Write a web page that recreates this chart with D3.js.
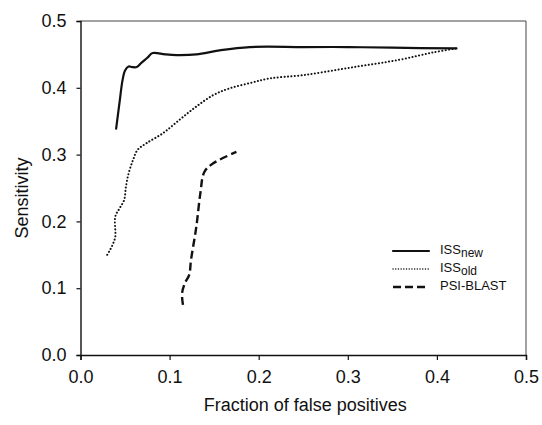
<!DOCTYPE html>
<html><head><meta charset="utf-8">
<script src="https://cdn.jsdelivr.net/npm/d3@7"></script>
<style>
html,body{margin:0;padding:0;background:#fff;}
text{font-family:"Liberation Sans",Arial,sans-serif;fill:#111;}
</style></head>
<body>
<svg id="c" width="542" height="425"></svg>
<script>
const xTicks = [0.0, 0.1, 0.2, 0.3, 0.4, 0.5];
const yTicks = [0.0, 0.1, 0.2, 0.3, 0.4, 0.5];
const xTitle = "Fraction of false positives";
const yTitle = "Sensitivity";

const issNewX = [0.040, 0.044, 0.047, 0.050, 0.054, 0.058, 0.063, 0.068, 0.075, 0.081, 0.095, 0.108, 0.130, 0.156, 0.190, 0.25, 0.30, 0.35, 0.422];
const issNewY = [0.339, 0.380, 0.410, 0.426, 0.432, 0.431, 0.431, 0.437, 0.445, 0.452, 0.450, 0.449, 0.450, 0.456, 0.461, 0.461, 0.461, 0.460, 0.459];

const issOldX = [0.030, 0.033, 0.036, 0.039, 0.039, 0.044, 0.049, 0.051, 0.054, 0.059, 0.064, 0.074, 0.0925, 0.111, 0.130, 0.149, 0.167, 0.190, 0.212, 0.25, 0.302, 0.358, 0.396, 0.422];
const issOldY = [0.150, 0.157, 0.165, 0.177, 0.207, 0.220, 0.232, 0.252, 0.272, 0.292, 0.307, 0.317, 0.332, 0.352, 0.372, 0.389, 0.399, 0.407, 0.414, 0.419, 0.430, 0.442, 0.453, 0.459];

const psiX = [0.115, 0.114, 0.117, 0.122, 0.124, 0.130, 0.1345, 0.139, 0.149, 0.175];
const psiY = [0.075, 0.092, 0.107, 0.120, 0.142, 0.192, 0.242, 0.274, 0.287, 0.304];

const seriesNames = [["ISS","new"],["ISS","old"],["PSI-BLAST",""]];

const svg = d3.select("#c");
const L = 80.5, R = 526, T = 21, B = 355;
const x = d3.scaleLinear().domain([0,0.5]).range([L,R]);
const y = d3.scaleLinear().domain([0,0.5]).range([B,T]);

// frame
svg.append("line").attr("x1",L).attr("x2",R).attr("y1",T).attr("y2",T).attr("stroke","#444").attr("stroke-width",1);
svg.append("line").attr("x1",R).attr("x2",R).attr("y1",T).attr("y2",B).attr("stroke","#444").attr("stroke-width",1);

const xAxis = svg.append("g").attr("transform",`translate(0,${B})`)
  .call(d3.axisBottom(x).tickValues(xTicks).tickFormat(d3.format(".1f")).tickSize(5).tickPadding(10));
const yAxis = svg.append("g").attr("transform",`translate(${L},0)`)
  .call(d3.axisLeft(y).tickValues(yTicks).tickFormat(d3.format(".1f")).tickSize(4).tickPadding(10));
[xAxis,yAxis].forEach(g=>{
  g.select(".domain").attr("stroke","#111").attr("stroke-width",1.4);
  g.selectAll(".tick line").attr("stroke","#111").attr("stroke-width",1.2);
  g.selectAll(".tick text").style("font-size","18px").attr("fill","#111");
});

svg.append("text").attr("x",(L+R)/2 + 2).attr("y",411).attr("text-anchor","middle").style("font-size","18px").text(xTitle);
svg.append("text").attr("transform",`translate(28,${(T+B)/2 + 10}) rotate(-90)`).attr("text-anchor","middle").style("font-size","18px").text(yTitle);

const line = d3.line().x(d=>x(d[0])).y(d=>y(d[1])).curve(d3.curveCatmullRom.alpha(0.5));
const mk = (xs,ys)=>xs.map((v,i)=>[v,ys[i]]);
const styles = [
  {w:2.2, dash:null, cap:"round"},
  {w:2.0, dash:"0.1 3.3", cap:"round"},
  {w:2.4, dash:"8 4", cap:"butt"}
];
const data = [mk(issNewX,issNewY), mk(issOldX,issOldY), mk(psiX,psiY)];
data.forEach((d,i)=>{
  const p = svg.append("path").attr("d",line(d)).attr("fill","none").attr("stroke","#111")
    .attr("stroke-width",styles[i].w).attr("stroke-linecap",styles[i].cap).attr("stroke-linejoin","round");
  if(styles[i].dash) p.attr("stroke-dasharray",styles[i].dash);
});

// legend
const legY = [251, 269, 287];
seriesNames.forEach((n,i)=>{
  const l = svg.append("line").attr("x1",393).attr("x2",429).attr("y1",legY[i]).attr("y2",legY[i])
    .attr("stroke","#111").attr("stroke-width",i===1?1.4:styles[i].w).attr("stroke-linecap",styles[i].cap);
  if(styles[i].dash) l.attr("stroke-dasharray",i===1?"0.1 2.6":styles[i].dash);
  const t = svg.append("text").attr("x",440).attr("y",legY[i]+3).style("font-size","13px");
  t.append("tspan").text(n[0]);
  if(n[1]) t.append("tspan").attr("dy",3).style("font-size","12px").text(n[1]);
});
</script>
</body></html>
